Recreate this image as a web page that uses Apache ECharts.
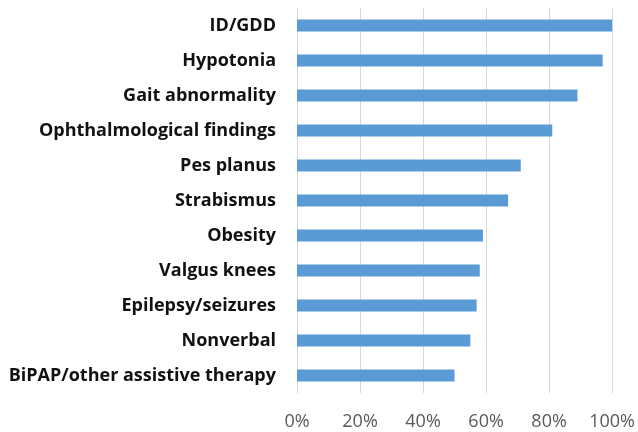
<!DOCTYPE html>
<html>
<head>
<meta charset="utf-8">
<script src="https://cdn.jsdelivr.net/npm/echarts@6/dist/echarts.min.js"></script>
<style>
  html, body { margin: 0; padding: 0; background: #fff; }
  #chart { width: 638px; height: 432px; }
</style>
</head>
<body>
<div id="chart"></div>
<script>
const features = [
  'ID/GDD', 'Hypotonia', 'Gait abnormality', 'Ophthalmological findings',
  'Pes planus', 'Strabismus', 'Obesity', 'Valgus knees',
  'Epilepsy/seizures', 'Nonverbal', 'BiPAP/other assistive therapy'
];
const percents = [100, 97, 89, 81, 71, 67, 59, 58, 57, 55, 50];
const xTicks = [0, 20, 40, 60, 80, 100];

const chart = echarts.init(document.getElementById('chart'));
chart.setOption({
  animation: false,
  grid: { left: 297, right: 25, top: 8, bottom: 39, containLabel: false },
  xAxis: {
    type: 'value',
    min: xTicks[0],
    max: xTicks[xTicks.length - 1],
    interval: 20,
    axisLine: { show: false },
    axisTick: { show: false },
    splitLine: { lineStyle: { color: '#d9d9d9', width: 1 } },
    axisLabel: {
      formatter: '{value}%',
      color: '#595959',
      fontSize: 18,
      fontFamily: 'Open Sans',
      margin: 20
    }
  },
  yAxis: {
    type: 'category',
    data: features,
    inverse: true,
    axisLine: { lineStyle: { color: '#d9d9d9', width: 1 } },
    axisTick: { length: 5, lineStyle: { color: '#d9d9d9' } },
    axisLabel: {
      color: '#111',
      fontSize: 18,
      fontWeight: 'bold',
      fontFamily: 'Open Sans',
      margin: 21
    }
  },
  series: [{
    type: 'bar',
    data: percents,
    barWidth: 12,
    itemStyle: { color: '#5b9bd5' }
  }]
});
</script>
</body>
</html>
